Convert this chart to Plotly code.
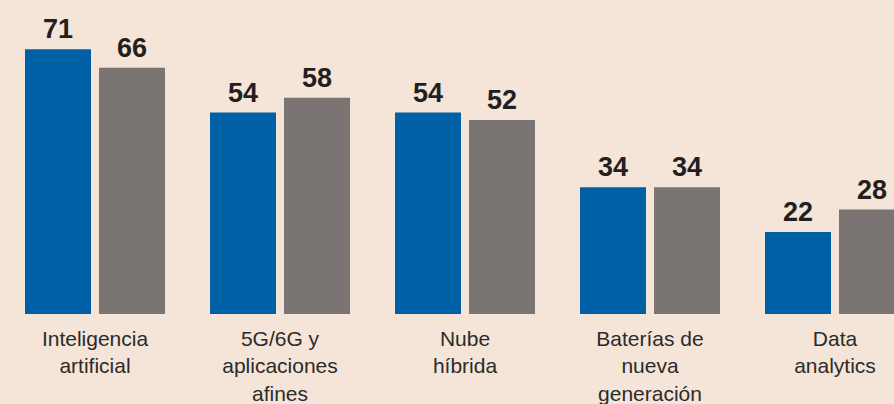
import plotly.graph_objects as go

categories = ["Inteligencia<br>artificial", "5G/6G y<br>aplicaciones<br>afines", "Nube<br>híbrida",
              "Baterías de<br>nueva<br>generación", "Data<br>analytics"]
serie_azul = [71, 54, 54, 34, 22]
serie_gris = [66, 58, 52, 34, 28]

BLUE = "#0060a5"
GRAY = "#7a7572"
BG = "#f5e4d8"
TXT = "#231f20"

xpos = list(range(len(categories)))
unit = 1 / 185.0
NUMFONT = dict(family="Liberation Sans, Arial, sans-serif", size=27, color=TXT, weight="bold")

fig = go.Figure()
fig.add_trace(go.Bar(x=xpos, y=serie_azul, width=66 * unit, offset=-70 * unit,
                     marker=dict(color=BLUE, line=dict(width=0)),
                     name="A", showlegend=False, hoverinfo="y"))
fig.add_trace(go.Bar(x=xpos, y=serie_gris, width=66 * unit, offset=4 * unit,
                     marker=dict(color=GRAY, line=dict(width=0)),
                     name="B", showlegend=False, hoverinfo="y"))

for i, v in zip(xpos, serie_azul):
    fig.add_annotation(x=i - 37 * unit, y=v, text=str(v), showarrow=False, yanchor="bottom",
                       xanchor="center", yshift=3, font=NUMFONT)
for i, v in zip(xpos, serie_gris):
    fig.add_annotation(x=i + 37 * unit, y=v, text=str(v), showarrow=False, yanchor="bottom",
                       xanchor="center", yshift=3, font=NUMFONT)

fig.update_layout(
    width=894, height=404,
    margin=dict(l=0, r=0, t=0, b=90, autoexpand=False),
    paper_bgcolor=BG, plot_bgcolor=BG,
    barmode="overlay",
    font=dict(family="Liberation Sans, Arial, sans-serif", color="#2b2b2b"),
    xaxis=dict(range=[-95 * unit, (894 - 95) * unit], tickvals=xpos, ticktext=categories,
               showgrid=False, zeroline=False, showline=False, ticks="",
               ticklabelstandoff=10, automargin=False,
               tickfont=dict(size=21, color="#2b2b2b"), fixedrange=True),
    yaxis=dict(range=[0, 314 / 3.73], visible=False, fixedrange=True, automargin=False),
)

fig.write_html("out.html", config={"displayModeBar": False},
               post_script="document.body.style.margin='0';document.body.style.background='" + BG + "';")
